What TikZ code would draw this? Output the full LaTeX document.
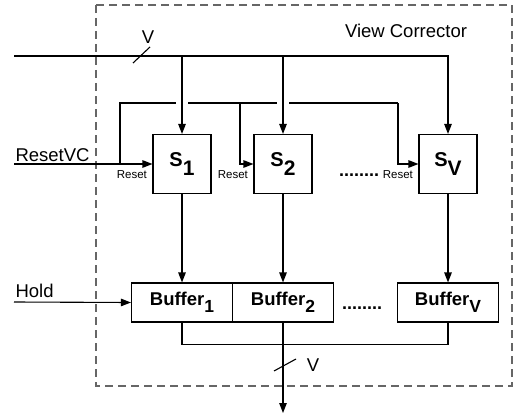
\documentclass[tikz,border=0pt]{standalone}
\usepackage{fontspec}
\setmainfont{Liberation Sans}
\usetikzlibrary{arrows.meta,positioning,calc}
\newcommand{\lowsub}[3]{#1\raisebox{-#3}{#2}}
\tikzset{
	sblk/.style={
		draw,
		line width=1.1pt,
		minimum width=58pt,
		minimum height=59pt,
		inner sep=0pt,
		font=\bfseries\fontsize{20}{22}\selectfont
	},
	bblk/.style={
		draw,
		line width=1.1pt,
		minimum width=101pt,
		minimum height=39pt,
		inner sep=0pt,
		font=\bfseries\fontsize{18.5}{20}\selectfont
	},
	arr/.style={-{Triangle[length=10pt,width=7.5pt]}, line width=1.1pt},
	wire/.style={line width=1.1pt},
	lbl/.style={font=\fontsize{18.5}{20}\selectfont},
	rlbl/.style={font=\fontsize{11.5}{12}\selectfont, anchor=base east},
	dots/.style={font=\bfseries\fontsize{18}{20}\selectfont, anchor=base},
	frame/.style={draw=black!60, line width=1.1pt, dash pattern=on 8pt off 5pt}
}
\begin{document}
\begin{tikzpicture}[x=1pt, y=-1pt]
		\useasboundingbox (0,0) rectangle (514,420);
		\draw[frame] (96,5) rectangle (512,386);
		\node[lbl] (title) at (406,31) {View Corrector};
		% state registers
		\node[sblk] (S1) at (182,164) {\lowsub{S}{\fontsize{21}{22}\selectfont 1}{9pt}};
		\node[sblk] (S2) at (283,164) {\lowsub{S}{\fontsize{21}{22}\selectfont 2}{9pt}};
		\node[sblk] (SV) at (448,164) {\lowsub{S}{\fontsize{21}{22}\selectfont V}{9pt}};
		\node[dots] (sdots) at (359,176) {........};
		% buffers
		\node[bblk] (B1) at (182,302.5) {\lowsub{Buffer}{\fontsize{17.5}{18}\selectfont 1}{7pt}};
		\node[bblk] (B2) at (283,302.5) {\lowsub{Buffer}{\fontsize{17.5}{18}\selectfont 2}{7pt}};
		\node[bblk] (BV) at (448,302.5) {\lowsub{Buffer}{\fontsize{17.5}{18}\selectfont V}{7pt}};
		\node[dots] (bdots) at (362,309) {........};
		% inputs and output
		\coordinate (inV) at (14,56);
		\coordinate (inR) at (14,164);
		\coordinate (inH) at (14,302);
		\coordinate (out) at (283,413);
		\node[lbl, anchor=base west] (rvc) at (12,161) {ResetVC};
		\node[lbl, anchor=base west] (hold) at (12,297) {Hold};
		% view bus
		\draw[arr] (inV) -| (SV.north);
		\draw[arr] (S1 |- inV) -- (S1.north);
		\draw[arr] (S2 |- inV) -- (S2.north);
		\draw[wire] (133,63) -- (150,47);
		\node[lbl] (vtop) at (148,37) {V};
		% reset lines
		\coordinate (rj1) at (120,164);
		\coordinate (rc1) at (120,103);
		\coordinate (rc2) at (240,103);
		\coordinate (rc3) at (398,103);
		\draw[arr] (inR) -- (S1.west);
		\draw[wire] (rj1) -- (rc1) -- ($(S1 |- rc1)+(-6,0)$);
		\draw[wire] ($(S1 |- rc1)+(6,0)$) -- ($(S2 |- rc1)+(-6,0)$);
		\draw[wire] ($(S2 |- rc1)+(6,0)$) -- (rc3);
		\draw[arr] (rc2) |- (S2.west);
		\draw[arr] (rc3) |- (SV.west);
		\node[rlbl] (r1) at ($(S1.west |- 0,178)+(-2,0)$) {Reset};
		\node[rlbl] (r2) at ($(S2.west |- 0,178)+(-2,0)$) {Reset};
		\node[rlbl] (r3) at ($(SV.west |- 0,178)+(-2,0)$) {Reset};
		% registers to buffers
		\draw[arr] (S1.south) -- (S1.south |- B1.north);
		\draw[arr] (S2.south) -- (S2.south |- B2.north);
		\draw[arr] (SV.south) -- (SV.south |- BV.north);
		\draw[arr] (inH) -- (B1.west);
		% output bus
		\draw[wire] (B1.south) -- ++(0,22) -| (BV.south);
		\draw[arr] (B2.south) -- (out);
		\draw[wire] (274,371) -- (296,359);
		\node[lbl] (vbot) at (313,365) {V};
	\end{tikzpicture}
\end{document}
